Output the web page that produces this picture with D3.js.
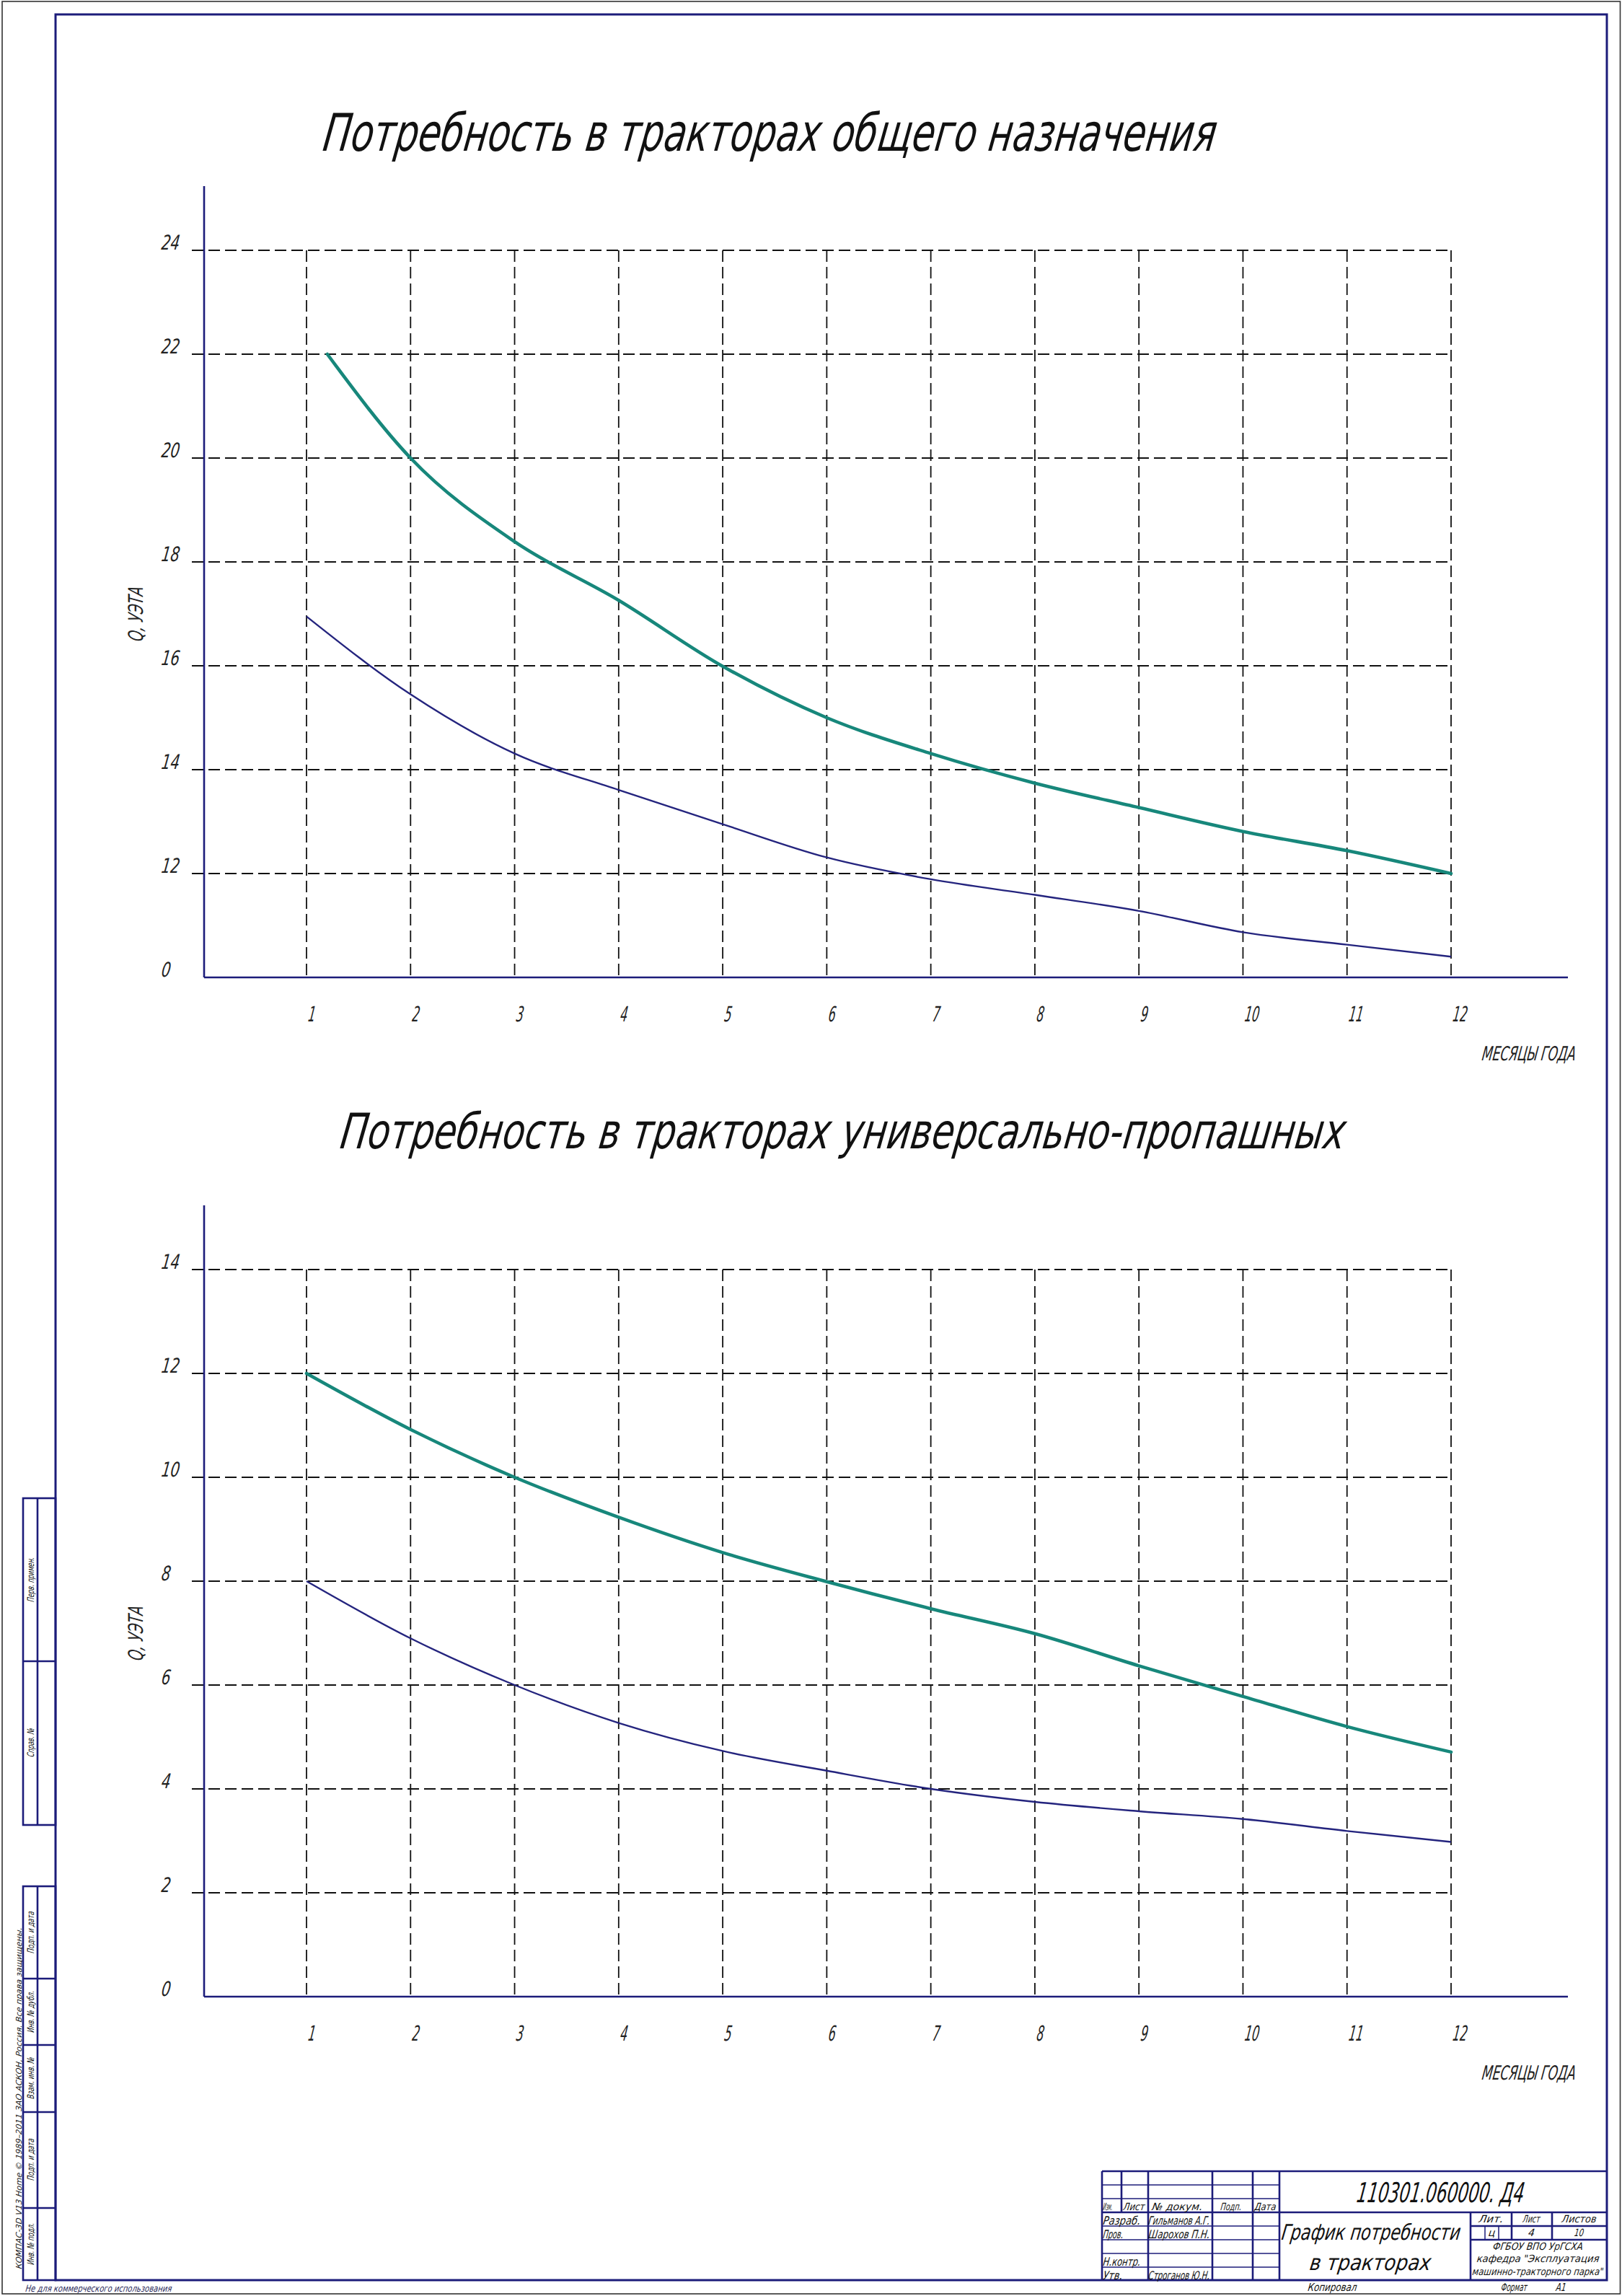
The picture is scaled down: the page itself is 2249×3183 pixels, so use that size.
<!DOCTYPE html>
<html><head><meta charset="utf-8">
<script src="https://cdn.jsdelivr.net/npm/d3@7"></script>
<style>
html,body{margin:0;padding:0;background:#fff;}
svg{display:block;}
text{font-family:"DejaVu Sans","Liberation Sans",sans-serif;font-style:italic;font-weight:200;}
</style></head>
<body>
<svg id="c" width="2249" height="3183"></svg>
<script>
// ---------- data ----------
const months = [1,2,3,4,5,6,7,8,9,10,11,12];
const topTealMonths = [1.2,2,3,4,5,6,7,8,9,10,11,12];
const topTeal = [22.0,20.0,18.39,17.26,15.99,15.0,14.31,13.74,13.27,12.81,12.44,12.0];
const topBlue = [16.95,15.45,14.31,13.61,12.95,12.31,11.89,11.59,11.28,10.87,10.63,10.4];
const botTeal = [12.0,10.92,10.0,9.23,8.55,7.99,7.47,6.99,6.37,5.78,5.2,4.71];
const botBlue = [8.0,6.9,6.0,5.27,4.73,4.35,4.0,3.75,3.57,3.42,3.19,2.98];
const topYTicks = [10,12,14,16,18,20,22,24];
const topYLabels = ["0","12","14","16","18","20","22","24"];
const botYTicks = [0,2,4,6,8,10,12,14];
const botYLabels = ["0","2","4","6","8","10","12","14"];
const topTitle = "Потребность в тракторах общего назначения";
const botTitle = "Потребность в тракторах универсально-пропашных";
const yAxisLabel = "Q, УЭТА";
const xAxisLabel = "МЕСЯЦЫ ГОДА";

// ---------- helpers ----------
const NAVY = "#1c1c7a", TEAL = "#17877b", BLUE = "#24247e";
const SKEW = -8;
const svg = d3.select("#c");
function place(el, x, y, rot, len){
  let tr = `translate(${x},${y})` + (rot ? ` rotate(${rot})` : "") + ` skewX(${SKEW})`;
  if (len){
    const w = el.getComputedTextLength();
    if (w > 0) tr += ` scale(${(len / w).toFixed(4)},1)`;
  }
  el.setAttribute("transform", tr);
}
function T(s, o){
  const g = svg.append("text")
    .attr("font-size", o.size)
    .attr("text-anchor", o.anchor || "start")
    .attr("fill", o.fill || "#111")
    .text(s);
  place(g.node(), o.x, o.y, o.rot || 0, o.len);
  return g;
}
function L(x1,y1,x2,y2,w,c){
  svg.append("line").attr("x1",x1).attr("y1",y1).attr("x2",x2).attr("y2",y2)
    .attr("stroke", c || NAVY).attr("stroke-width", w || 2.4);
}

// ---------- sheet frames ----------
svg.append("rect").attr("x",3).attr("y",2).attr("width",2243.5).attr("height",3178)
  .attr("fill","none").attr("stroke","#333").attr("stroke-width",1.6);
svg.append("rect").attr("x",77).attr("y",20).attr("width",2151).attr("height",3141)
  .attr("fill","none").attr("stroke",NAVY).attr("stroke-width",3);

// ---------- chart builder ----------
function chart(cfg){
  const x = d3.scaleLinear().domain([1,12]).range([425,2012]);
  const y = d3.scaleLinear().domain(cfg.yDomain).range(cfg.yRange);
  const topV = cfg.ticks[cfg.ticks.length-1];
  const y0 = y(cfg.yDomain[0]);
  const g = svg.append("g");
  // horizontal dashed grid
  g.selectAll(".hg").data(cfg.ticks.slice(1)).join("line")
    .attr("x1",266).attr("x2",x(12)).attr("y1",d=>y(d)).attr("y2",d=>y(d))
    .attr("stroke","#111").attr("stroke-width",1.8).attr("stroke-dasharray","16,7");
  // vertical dashed grid
  g.selectAll(".vg").data(months).join("line")
    .attr("x1",d=>x(d)).attr("x2",d=>x(d)).attr("y1",y(topV)).attr("y2",y0)
    .attr("stroke","#111").attr("stroke-width",1.8).attr("stroke-dasharray","16,7");
  // y axis labels via d3 axis
  const ya = g.append("g").attr("transform","translate(283,0)")
    .call(d3.axisLeft(y).tickValues(cfg.ticks).tickSize(0).tickFormat((d,i)=>cfg.labels[i]));
  ya.select(".domain").remove();
  ya.selectAll("text").attr("x",null).attr("dy",null).attr("text-anchor","start")
    .attr("font-size",28).attr("fill","#222").attr("font-family",null)
    .each(function(d,i){ place(this, -60, -2, 0, cfg.labels[i].length*12.5); });
  // x axis labels via d3 axis
  const xa = g.append("g").attr("transform",`translate(0,${y0})`)
    .call(d3.axisBottom(x).tickValues(months).tickSize(0).tickFormat(d=>String(d)));
  xa.select(".domain").remove();
  xa.selectAll("text").attr("y",null).attr("dy",null).attr("text-anchor","start")
    .attr("font-size",29).attr("fill","#222").attr("font-family",null)
    .each(function(d){ place(this, 1, 61, 0, String(d).length*10); });
  // axis lines
  L(283, y(topV)-89, 283, y0, 2.6, NAVY);
  L(283, y0, 2174, y0, 2.6, NAVY);
  // curves
  const line = d3.line().curve(d3.curveMonotoneX);
  g.append("path").attr("d", line(cfg.tealX.map((m,i)=>[x(m), y(cfg.teal[i])])))
    .attr("fill","none").attr("stroke",TEAL).attr("stroke-width",4.6).attr("stroke-linecap","round");
  g.append("path").attr("d", line(months.map((m,i)=>[x(m), y(cfg.blue[i])])))
    .attr("fill","none").attr("stroke",BLUE).attr("stroke-width",2.4);
  // labels
  T(cfg.title, {x:cfg.titleX, y:cfg.titleY, size:cfg.titleSize, len:cfg.titleLen, fill:"#111"});
  T(yAxisLabel, {x:198, y:y0-503, size:28, len:76, anchor:"middle", rot:-90, fill:"#222"});
  T(xAxisLabel, {x:2184, y:y0+115, size:27, len:130, anchor:"end", fill:"#222"});
}

chart({yDomain:[10,24], yRange:[1355,347], ticks:topYTicks, labels:topYLabels,
  tealX:topTealMonths, teal:topTeal, blue:topBlue,
  title:topTitle, titleX:446, titleY:209, titleSize:72, titleLen:1238});
chart({yDomain:[0,14], yRange:[2768,1760], ticks:botYTicks, labels:botYLabels,
  tealX:months, teal:botTeal, blue:botBlue,
  title:botTitle, titleX:470, titleY:1592, titleSize:68, titleLen:1393});

// ---------- title block ----------
const TK = 2.6, TN = 1.5;
L(1528,3010,2228,3010,TK);
L(1528,3010,1528,3161,TK);
L(1555,3010,1555,3067,TK);
[1592,1681,1737,1774].forEach(v=>L(v,3010,v,3161,TK));
[3029,3048].forEach(v=>L(1528,v,1774,v,TN));
L(1528,3067,2228,3067,TK);
[3086,3105,3124,3143].forEach(v=>L(1528,v,1774,v,TN));
L(2039,3067,2039,3161,TK);
L(2039,3086,2228,3086,TK);
L(2039,3105,2228,3105,TK);
L(2096,3067,2096,3105,TK);
L(2152,3067,2152,3105,TK);
L(2059,3086,2059,3105,TN);
L(2078,3086,2078,3105,TN);

T("Изм.", {x:1529,y:3064,size:14,len:13});
T("Лист", {x:1557,y:3064,size:14,len:30});
T("№ докум.", {x:1597,y:3064,size:14,len:70});
T("Подп.", {x:1692,y:3064,size:14,len:29});
T("Дата", {x:1739,y:3064,size:14,len:30});
T("Разраб.", {x:1529,y:3084,size:16,len:52});
T("Гильманов А.Г.", {x:1592,y:3084,size:16,len:85});
T("Пров.", {x:1529,y:3103,size:16,len:28});
T("Шарохов П.Н.", {x:1592,y:3103,size:16,len:85});
T("Н.контр.", {x:1529,y:3141,size:16,len:52});
T("Утв.", {x:1529,y:3160,size:16,len:27});
T("Строганов Ю.Н.", {x:1592,y:3160,size:16,len:85});
T("110301.060000. Д4", {x:1880,y:3053,size:38,len:232});
T("График потребности", {x:1776,y:3105,size:30,len:248});
T("в тракторах", {x:1815,y:3147,size:30,len:168});
T("Лит.", {x:2067,y:3081,size:14,len:34,anchor:"middle"});
T("Лист", {x:2123,y:3081,size:14,len:24,anchor:"middle"});
T("Листов", {x:2189,y:3081,size:14,len:48,anchor:"middle"});
T("ц", {x:2068,y:3100,size:14,anchor:"middle"});
T("4", {x:2123,y:3100,size:14,anchor:"middle"});
T("10", {x:2189,y:3100,size:14,len:13,anchor:"middle"});
T("ФГБОУ ВПО УрГСХА", {x:2132,y:3119,size:14,len:125,anchor:"middle"});
T("кафедра \"Эксплуатация", {x:2132,y:3136,size:14,len:170,anchor:"middle"});
T("машинно-тракторного парка\"", {x:2132,y:3154,size:14,len:182,anchor:"middle"});
T("Копировал", {x:1813,y:3176,size:15,len:68});
T("Формат", {x:2081,y:3176,size:15,len:36});
T("А1", {x:2157,y:3176,size:15,len:14});

// ---------- left stamps ----------
svg.append("rect").attr("x",32).attr("y",2077).attr("width",45).attr("height",453)
  .attr("fill","none").attr("stroke",NAVY).attr("stroke-width",TK);
L(32,2303,77,2303,TK); L(52,2077,52,2530,TK);
svg.append("rect").attr("x",32).attr("y",2615).attr("width",45).attr("height",546)
  .attr("fill","none").attr("stroke",NAVY).attr("stroke-width",TK);
[2743,2835,2928,3061].forEach(v=>L(32,v,77,v,TK)); L(52,2615,52,3161,TK);
const stamps = [["Перв. примен.",2190,62],["Справ. №",2416,40],["Подп. и дата",2679,58],
  ["Инв. № дубл.",2789,58],["Взам. инв. №",2881,58],["Подп. и дата",2994,58],["Инв. № подл.",3111,58]];
stamps.forEach(s=>T(s[0],{x:47,y:s[1],size:13,len:s[2],anchor:"middle",rot:-90}));
T("КОМПАС-3D V13 Home © 1989–2011 ЗАО АСКОН, Россия. Все права защищены.",
  {x:30,y:2909,size:11,len:474,anchor:"middle",rot:-90,fill:"#222"});
T("Не для коммерческого использования", {x:35,y:3177,size:13,len:203,fill:"#2a2a5a"});
</script>
</body></html>
